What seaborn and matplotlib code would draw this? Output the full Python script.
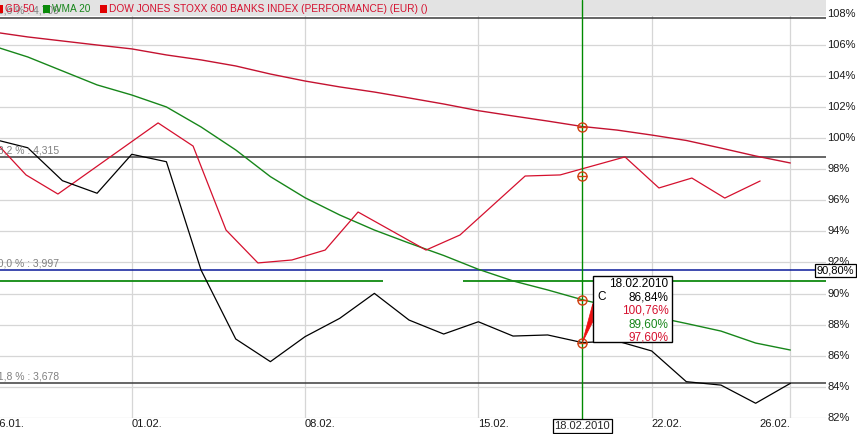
import matplotlib
matplotlib.use("Agg")
import numpy as np
import pandas as pd
import matplotlib.pyplot as plt
import seaborn as sns
from matplotlib.patches import Rectangle, Polygon
from matplotlib.transforms import IdentityTransform

sns.set_style("white")
plt.rcParams['font.family'] = ['Liberation Sans', 'DejaVu Sans']

# trading days (index = position on x axis)
dates = ["26.01.", "27.01.", "28.01.", "29.01.", "01.02.", "02.02.", "03.02.", "04.02.",
         "05.02.", "08.02.", "09.02.", "10.02.", "11.02.", "12.02.", "15.02.", "16.02.",
         "17.02.", "18.02.", "19.02.", "22.02.", "23.02.", "24.02.", "25.02.", "26.02."]

# close in % (black)
close = [99.95, 99.39, 97.27, 96.46, 98.97, 98.49, 91.51, 87.07, 85.61, 87.22, 88.40, 90.01,
         88.29, 87.39, 88.18, 87.26, 87.33, 86.84, 86.94, 86.30, 84.32, 84.10, 82.93, 84.21]
# GD 50 (dark red)
gd50 = [106.85, 106.53, 106.27, 106.01, 105.76, 105.37, 105.05, 104.66, 104.14, 103.69, 103.31, 102.98,
        102.60, 102.21, 101.78, 101.44, 101.11, 100.76, 100.53, 100.21, 99.86, 99.37, 98.86, 98.41]
# WMA 20 (green)
wma20 = [105.95, 105.24, 104.34, 103.44, 102.79, 102.02, 100.73, 99.25, 97.53, 96.17, 95.06, 94.09,
         93.25, 92.45, 91.56, 90.81, 90.23, 89.60, 89.07, 88.54, 88.07, 87.58, 86.81, 86.36]
# DJ STOXX 600 Banks performance (red), on its own time positions
bank_x = [0.0, 0.95, 1.87, 4.76, 5.77, 6.72, 7.64, 8.62, 9.58, 10.53, 12.49, 13.47,
          15.35, 16.36, 18.23, 19.21, 20.16, 21.11, 22.13]
bank_perf = [99.92, 97.64, 96.41, 100.99, 99.50, 94.09, 91.97, 92.16, 92.80, 95.25, 92.80, 93.77,
             97.57, 97.64, 98.80, 96.80, 97.44, 96.15, 97.25]

# fibonacci levels
fib_pct = ["23,6 %", "38,2 %", "50,0 %", "61,8 %"]
fib_price = ["4,709", "4,315", "3,997", "3,678"]
fib_level = [107.77, 98.77, 91.49, 84.21]
fib_color = ["#3c3c3c", "#3c3c3c", "#0a1a9a", "#3c3c3c"]

hline_level = 90.80
hline_gap = (11.25, 13.56)

x_ticks = ["26.01.", "01.02.", "08.02.", "15.02.", "22.02.", "26.02."]
y_ticks = list(range(82, 109, 2))

cursor_day = "18.02."
cursor_label = "18.02.2010"
cursor_vals = [86.84, 100.76, 89.60, 97.60]
cursor_txt = ["86,84%", "100,76%", "89,60%", "97,60%"]

black = "#000000"
darkred = "#c41230"
red = "#d5102e"
green = "#17861a"

df = pd.DataFrame({"day": np.arange(len(dates)), "close": close, "gd50": gd50, "wma20": wma20})
bank = pd.DataFrame({"day": bank_x, "perf": bank_perf})

fig = plt.figure(figsize=(8.57, 4.34), dpi=100)
# axes starts slightly left of the figure so the first date sits off-canvas
ax = fig.add_axes([-6.9 / 857, 16 / 434, 832.9 / 857, 418 / 434])

# series
sns.lineplot(data=df, x="day", y="gd50", ax=ax, color=darkred, lw=1.0, zorder=3)
sns.lineplot(data=df, x="day", y="wma20", ax=ax, color=green, lw=1.0, zorder=3)
sns.lineplot(data=bank, x="day", y="perf", ax=ax, color=red, lw=0.9, zorder=3, sort=False)
sns.lineplot(data=df, x="day", y="close", ax=ax, color=black, lw=0.9, zorder=4)
ax.set_xlabel("")
ax.set_ylabel("")

# grid
xpos = [dates.index(t) for t in x_ticks]
ax.set_xticks(xpos, x_ticks)
ax.set_yticks(y_ticks, [f"{v}%" for v in y_ticks])
ax.set_xlim(0, 24.03)
ax.set_ylim(81.98, 108.91)
ax.grid(True, color="#d6d6d6", lw=0.9)
ax.set_axisbelow(True)
for s in ax.spines.values():
    s.set_visible(False)
ax.yaxis.tick_right()
ax.tick_params(axis="both", length=0, labelsize=8, colors="#1a1a1a")
ax.tick_params(axis="y", pad=1)
ax.tick_params(axis="x", pad=1)
for lbl in ax.get_xticklabels():
    lbl.set_ha("left")
ax.get_xticklabels()[-1].set_ha("right")
for lbl in ax.get_yticklabels():
    lbl.set_va("center")

# legend band on top of the plot area
ax.add_patch(Rectangle((0, 1 - 16 / 418), 1, 16 / 418, transform=ax.transAxes,
                       fc="#e3e3e3", ec="none", zorder=5))

# fibonacci lines + labels
for pct, price, lev, col in zip(fib_pct, fib_price, fib_level, fib_color):
    ax.axhline(lev, color=col, lw=1.1, zorder=2)
    ax.annotate(f"{pct} : {price}", xy=(0, lev), xycoords=("axes fraction", "data"),
                xytext=(-1, 7), textcoords="offset pixels", ha="left", va="center",
                fontsize=7.5, color="#808080", annotation_clip=False, zorder=7)

# green horizontal line with gap
ax.hlines(hline_level, 0, hline_gap[0], color="#0f8a10", lw=1.3, zorder=2)
ax.hlines(hline_level, hline_gap[1], 24.03, color="#0f8a10", lw=1.3, zorder=2)
ax.annotate(f"{hline_level:.2f}%".replace(".", ","), xy=(1, fib_level[2]),
            xycoords=("axes fraction", "data"), xytext=(9.5, 0), textcoords="offset pixels",
            ha="center", va="center", fontsize=8, color="black", annotation_clip=False,
            bbox=dict(boxstyle="square,pad=0.12", fc="white", ec="black", lw=0.9), zorder=8)

# crosshair
cday = dates.index(cursor_day)
ax.axvline(cday, ymin=-0.04, ymax=1.0, color="#008a00", lw=1.0, zorder=6, clip_on=False)
ax.annotate(cursor_label, xy=(cday, 0), xycoords=("data", "axes fraction"),
            xytext=(0, -8), textcoords="offset pixels", ha="center", va="center",
            fontsize=8, annotation_clip=False,
            bbox=dict(boxstyle="square,pad=0.15", fc="white", ec="black", lw=0.9), zorder=9)
for v in cursor_vals:
    ax.plot(cday, v, marker="o", ms=6.5, mfc="none", mec="#d04010", mew=1.0, zorder=7)
    ax.plot(cday, v, marker="_", ms=6.5, mec="#d04010", mew=1.0, zorder=7)

# tooltip
fig.canvas.draw()
px, py = ax.transData.transform((cday, cursor_vals[0]))
fig.add_artist(Polygon([(px, py), (px + 10.5, py + 39), (px + 10.5, py + 21)], closed=True,
                       transform=IdentityTransform(), fc="#ee1010", ec="#ee1010", lw=0.5, zorder=8))
fig.add_artist(Rectangle((px + 10.5, py + 1), 79, 66, transform=IdentityTransform(),
                         fc="white", ec="black", lw=1.0, zorder=9))
tip_lines = [cursor_label] + cursor_txt
tip_cols = [black, black, red, green, red]
for k, (t, c) in enumerate(zip(tip_lines, tip_cols)):
    fig.text(px + 86, py + 59 - 13.5 * k, t, transform=IdentityTransform(), ha="right",
             va="center", fontsize=8.5, color=c, zorder=10)
fig.text(px + 15, py + 46, "C", transform=IdentityTransform(), ha="left", va="center",
         fontsize=8.5, color=black, zorder=10)

# legend entries
leg_names = ["GD 50", "WMA 20", "DOW JONES STOXX 600 BANKS INDEX (PERFORMANCE) (EUR) ()"]
leg_cols = ["#e00000", "#0a8a0a", "#e00000"]
leg_txtcols = [red, green, red]
leg_x = [-4, 43, 100]
for name, sc, tc, lx in zip(leg_names, leg_cols, leg_txtcols, leg_x):
    fig.add_artist(Rectangle((lx, 434 - 13), 7, 8, transform=IdentityTransform(),
                             fc=sc, ec="none", zorder=5))
    fig.text((lx + 9) / 857, (434 - 9) / 434, name, ha="left", va="center",
             fontsize=7.3, color=tc, zorder=5)

fig.savefig("out.png", dpi=100)
